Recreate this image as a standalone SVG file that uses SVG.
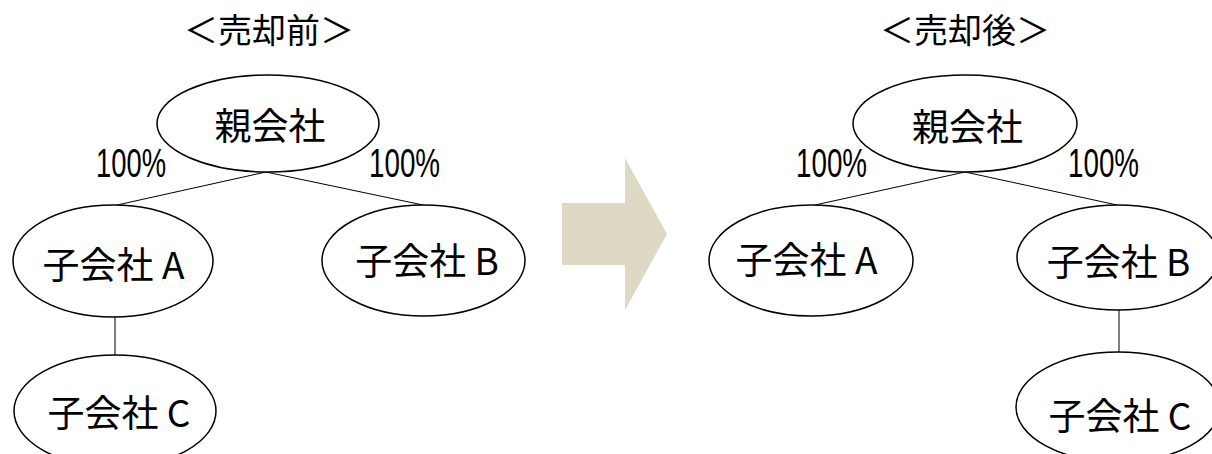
<svg xmlns="http://www.w3.org/2000/svg" width="1212" height="454" viewBox="0 0 1212 454">
<style>
.n{fill:#fff;stroke:#000;stroke-width:1.5}
.c{stroke:#000;stroke-width:1;fill:none}
.t{font-family:"Noto Sans CJK JP","Noto Sans",sans-serif;fill:#000;text-anchor:middle;font-size:37px}
.h{font-family:"Noto Sans CJK JP","Noto Sans",sans-serif;fill:#000;text-anchor:middle;font-size:34px}
.p{font-family:"Liberation Sans",Arial,sans-serif;font-size:40px;fill:#000}
</style>
<rect width="1212" height="454" fill="#fff"/>
<g id="connectors">
<line class="c" x1="266" y1="172" x2="117" y2="205"/>
<line class="c" x1="266" y1="172" x2="423" y2="205"/>
<line class="c" x1="115" y1="316" x2="115" y2="355"/>
<line class="c" x1="965" y1="172" x2="815" y2="205"/>
<line class="c" x1="965" y1="172" x2="1117" y2="205"/>
<line class="c" x1="1119" y1="310" x2="1119" y2="352"/>
</g>
<g id="title-before"><text class="h" x="269" y="43">＜売却前＞</text></g>
<g id="title-after"><text class="h" x="965" y="43">＜売却後＞</text></g>
<g id="before-parent"><ellipse class="n" cx="268" cy="123.5" rx="111" ry="48.5"/><text class="t" x="270" y="140">親会社</text></g>
<g id="before-label-a"><text class="p" x="96" y="177" textLength="70" lengthAdjust="spacingAndGlyphs">100%</text></g>
<g id="before-label-b"><text class="p" x="369" y="177" textLength="71" lengthAdjust="spacingAndGlyphs">100%</text></g>
<g id="before-a"><ellipse class="n" cx="113" cy="261" rx="100" ry="56"/><text class="t" x="113.5" y="279">子会社 A</text></g>
<g id="before-b"><ellipse class="n" cx="423.5" cy="260.5" rx="101.5" ry="55.5"/><text class="t" x="427" y="275">子会社 B</text></g>
<g id="before-c"><ellipse class="n" cx="115" cy="411" rx="101" ry="56"/><text class="t" x="119" y="427">子会社 C</text></g>
<g id="arrow"><polygon points="562,203 625,203 625,158 667,234 625,310 625,265 562,265" fill="#DDD9C4"/></g>
<g id="after-parent"><ellipse class="n" cx="965" cy="123.5" rx="112" ry="48.5"/><text class="t" x="967.5" y="141">親会社</text></g>
<g id="after-label-a"><text class="p" x="796" y="177" textLength="71" lengthAdjust="spacingAndGlyphs">100%</text></g>
<g id="after-label-b"><text class="p" x="1068" y="177" textLength="71" lengthAdjust="spacingAndGlyphs">100%</text></g>
<g id="after-a"><ellipse class="n" cx="811" cy="260.5" rx="102" ry="55.5"/><text class="t" x="806.5" y="274">子会社 A</text></g>
<g id="after-b"><ellipse class="n" cx="1118" cy="257.5" rx="101" ry="52.5"/><text class="t" x="1118.5" y="276">子会社 B</text></g>
<g id="after-c"><ellipse class="n" cx="1118" cy="407" rx="102" ry="55"/><text class="t" x="1120" y="430">子会社 C</text></g>
</svg>
